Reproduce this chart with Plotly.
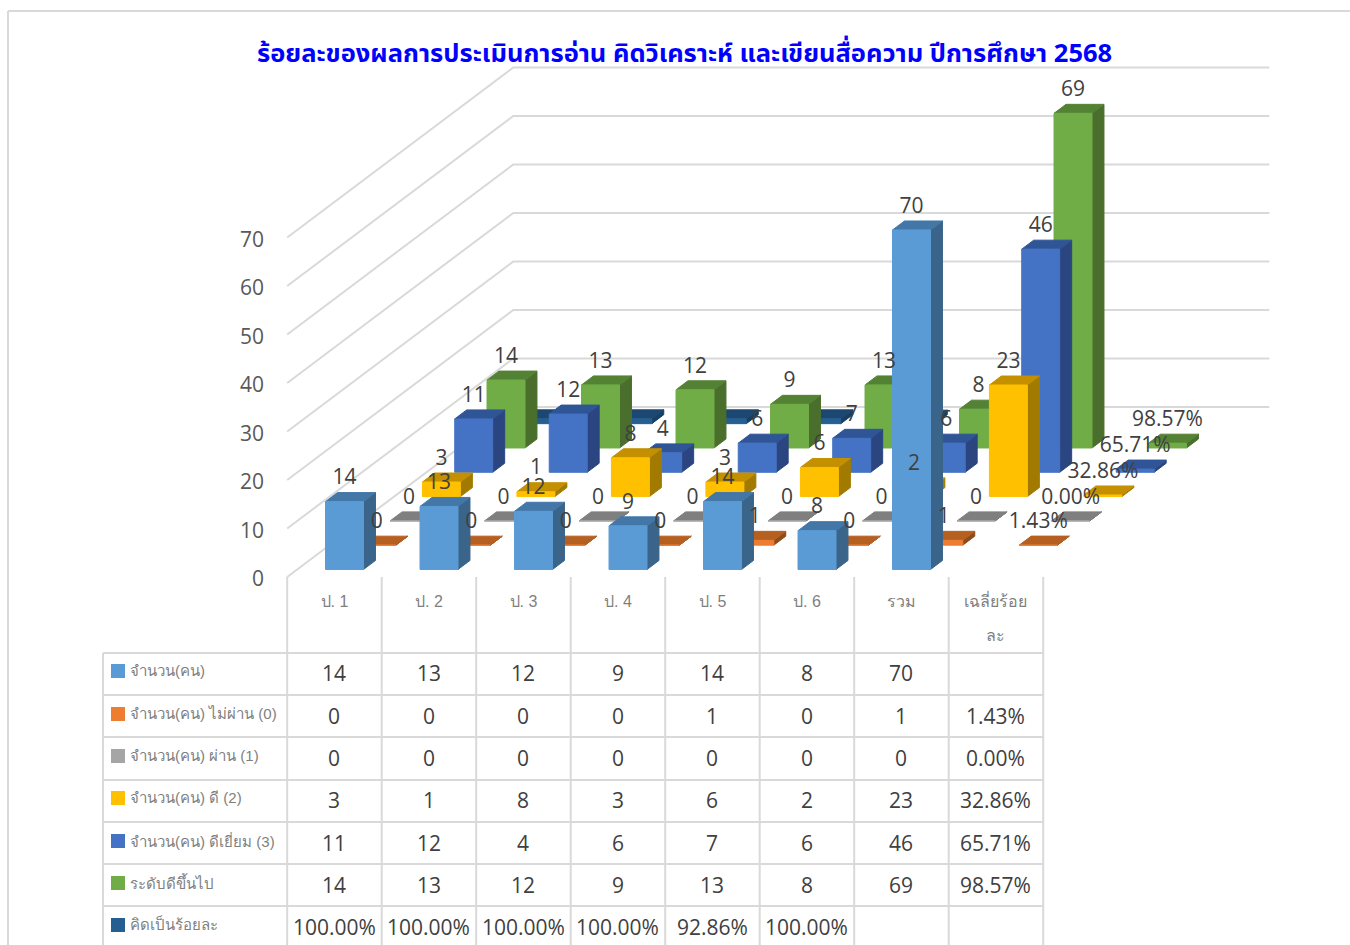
import plotly.graph_objects as go

title = "ร้อยละของผลการประเมินการอ่าน คิดวิเคราะห์ และเขียนสื่อความ ปีการศึกษา 2568"
categories = ["ป. 1", "ป. 2", "ป. 3", "ป. 4", "ป. 5", "ป. 6", "รวม", "เฉลี่ยร้อย"]
series_names = ["จำนวน(คน)", "จำนวน(คน) ไม่ผ่าน (0)", "จำนวน(คน) ผ่าน (1)", "จำนวน(คน) ดี (2)",
                "จำนวน(คน) ดีเยี่ยม (3)", "ระดับดีขึ้นไป", "คิดเป็นร้อยละ"]
s_total = [14, 13, 12, 9, 14, 8, 70, None]
s_fail = [0, 0, 0, 0, 1, 0, 1, 0.0143]
s_pass = [0, 0, 0, 0, 0, 0, 0, 0.0]
s_good = [3, 1, 8, 3, 6, 2, 23, 0.3286]
s_excellent = [11, 12, 4, 6, 7, 6, 46, 0.6571]
s_above = [14, 13, 12, 9, 13, 8, 69, 0.9857]
s_percent = [1.0, 1.0, 1.0, 1.0, 0.9286, 1.0, None, None]
all_series = [s_total, s_fail, s_pass, s_good, s_excellent, s_above, s_percent]
y_ticks = [0, 10, 20, 30, 40, 50, 60, 70]

# colours: front, top, side
colors = [("#5b9bd5", "#4377a8", "#3a6489"), ("#ed7d31", "#b55f21", "#8f4c1a"),
          ("#a5a5a5", "#7f7f7f", "#6a6a6a"), ("#ffc000", "#c49000", "#a27a00"),
          ("#4472c4", "#2f5597", "#2a4580"), ("#70ad47", "#548235", "#4a6f2d"),
          ("#255e91", "#1b4770", "#173f63")]

W, H = 1350, 945
X0, Y0 = 287.2, 577          # pixel position of the chart origin
PX_CAT, PX_VAL = 94.5, 4.85
DX, DY = 32.3 / PX_CAT, 24.3 / PX_VAL   # oblique shift per series, in axis units
GAP, BW = 0.2995, 0.402
DI, DD = 0.31, 0.37
LABEL_LIFT = 22.5 / PX_VAL
THAI = "Liberation Sans, Noto Sans, sans-serif"


def proj(c, d, v):
    return c + d * DX, v + d * DY


def fx(px):
    return px / W


def fy(py):
    return 1 - py / H


fig = go.Figure()

# walls
gx, gy = [], []
for t in y_ticks:
    for p in (proj(0, 0, t), proj(0, 7, t), proj(8, 7, t)):
        gx.append(p[0]); gy.append(p[1])
    gx.append(None); gy.append(None)
fig.add_trace(go.Scatter(x=gx, y=gy, mode="lines", line=dict(color="#d9d9d9", width=2),
                         hoverinfo="skip", showlegend=False, name="grid"))


def face_trace(xs, ys, color, name, edge):
    return go.Scatter(x=xs, y=ys, mode="lines", fill="toself", fillcolor=color,
                      line=dict(color=edge, width=1), hoverinfo="skip", showlegend=False, name=name)


for s in range(6, -1, -1):
    front, top, side = colors[s]
    fr, tp, sd = ([], []), ([], []), ([], [])
    for c, v in enumerate(all_series[s]):
        if v is None:
            continue
        x0, x1 = c + GAP, c + GAP + BW
        d0, d1 = s + DI, s + DI + DD
        polys = [
            (fr, [(x0, d0, 0), (x1, d0, 0), (x1, d0, v), (x0, d0, v)]),
            (tp, [(x0, d0, v), (x1, d0, v), (x1, d1, v), (x0, d1, v)]),
            (sd, [(x1, d0, 0), (x1, d1, 0), (x1, d1, v), (x1, d0, v)]),
        ]
        for store, pts in polys:
            for a, b, z in pts + [pts[0]]:
                px, py = proj(a, b, z)
                store[0].append(px); store[1].append(py)
            store[0].append(None); store[1].append(None)
    fig.add_trace(face_trace(sd[0], sd[1], side, series_names[s] + " side", side))
    fig.add_trace(face_trace(tp[0], tp[1], top, series_names[s] + " top", top))
    fig.add_trace(face_trace(fr[0], fr[1], front, series_names[s], front))


def fmt(s, c, v):
    if v is None:
        return ""
    if s == 6 or c == 7:
        return f"{v * 100:.2f}%"
    return str(v)


# data labels (the percentage series has none)
for s in range(5, -1, -1):
    lx, ly, lt = [], [], []
    for c, v in enumerate(all_series[s]):
        if v is None:
            continue
        px, py = proj(c + GAP + BW / 2, s + DI, v)
        lx.append(px); ly.append(py + LABEL_LIFT); lt.append(fmt(s, c, v))
    fig.add_trace(go.Scatter(x=lx, y=ly, text=lt, mode="text", textposition="middle center",
                             textfont=dict(size=21, color="#404040", family="Open Sans"),
                             hoverinfo="skip", showlegend=False, name=series_names[s] + " labels"))

LINE = dict(color="#d9d9d9", width=2)
shapes = []


def line(x0, y0, x1, y1):
    shapes.append(dict(type="line", xref="paper", yref="paper", x0=fx(x0), y0=fy(y0),
                       x1=fx(x1), y1=fy(y1), line=LINE, layer="below"))


# outer frame
line(8, 11, 1350, 11)
line(8, 11, 8, 945)
# table
row_lines = [653, 695, 737, 780, 822, 864, 906]
row_mid = [673, 716, 758, 800, 843, 885, 927]
for y in row_lines:
    line(103, y, 1043.5, y)
line(103, 653, 103, 945)
for c in range(9):
    line(X0 + c * PX_CAT, 577, X0 + c * PX_CAT, 945)

ann = []
ann.append(dict(text=f"<b>{title}</b>", xref="paper", yref="paper", x=fx(684), y=fy(54),
                showarrow=False, xanchor="center", yanchor="middle",
                font=dict(size=25.5, color="#0000ff", family="Noto Sans Thai, Noto Sans, sans-serif")))
ann.append(dict(text="ละ", xref="paper", yref="paper", x=fx(X0 + 7.5 * PX_CAT), y=fy(635),
                showarrow=False, xanchor="center", yanchor="middle",
                font=dict(size=16, color="#7f7f7f", family=THAI)))
for s, name in enumerate(series_names):
    ym = row_mid[s]
    shapes.append(dict(type="rect", xref="paper", yref="paper", x0=fx(111), x1=fx(125),
                       y0=fy(ym - 9), y1=fy(ym + 5), fillcolor=colors[s][0], line=dict(width=0)))
    ann.append(dict(text=name, xref="paper", yref="paper", x=fx(128), y=fy(ym - 3),
                    showarrow=False, xanchor="left", yanchor="middle",
                    font=dict(size=15, color="#7f7f7f", family=THAI)))
    for c, v in enumerate(all_series[s]):
        t = fmt(s, c, v)
        if t:
            ann.append(dict(text=t, xref="paper", yref="paper", x=fx(X0 + (c + 0.5) * PX_CAT), y=fy(ym),
                            showarrow=False, xanchor="center", yanchor="middle",
                            font=dict(size=21, color="#404040", family="Open Sans")))

fig.update_layout(
    width=W, height=H, margin=dict(l=0, r=0, t=0, b=0), paper_bgcolor="white", plot_bgcolor="white",
    showlegend=False, shapes=shapes, annotations=ann,
    xaxis=dict(range=[-X0 / PX_CAT, (W - X0) / PX_CAT], anchor="free", position=fy(Y0),
               tickmode="array", tickvals=[i + 0.5 for i in range(8)], ticktext=categories,
               tickfont=dict(size=16, color="#7f7f7f", family=THAI), showgrid=False, zeroline=False,
               showline=False, ticks="outside", ticklen=10, tickcolor="rgba(0,0,0,0)"),
    yaxis=dict(range=[(Y0 - H) / PX_VAL, Y0 / PX_VAL], anchor="free", position=fx(X0),
               tickmode="array", tickvals=y_ticks, ticklabelshift=2,
               tickfont=dict(size=21, color="#595959", family="Open Sans"), showgrid=False, zeroline=False,
               showline=False, ticks="outside", ticklen=19, tickcolor="rgba(0,0,0,0)"),
)
fig.write_html("out.html", post_script="document.body.style.margin='0';",
               config=dict(displayModeBar=False))
